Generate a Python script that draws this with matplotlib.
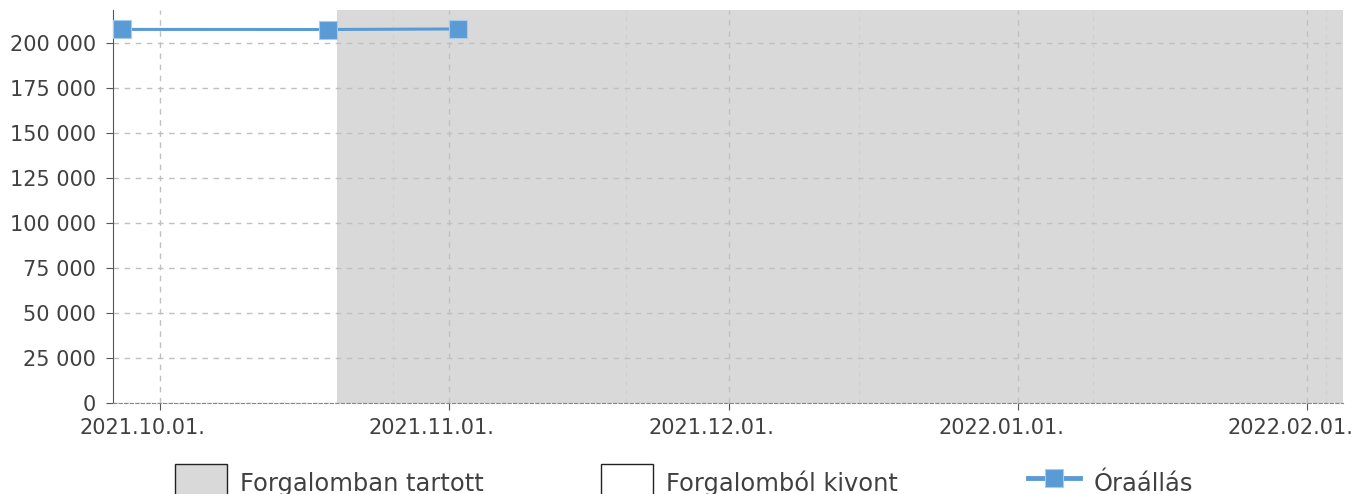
import matplotlib
matplotlib.use("Agg")
import matplotlib.pyplot as plt
import matplotlib.dates as mdates
import matplotlib.ticker as mticker
import matplotlib.transforms as mtransforms
from matplotlib.patches import Patch
from matplotlib.lines import Line2D
import pandas as pd

# ---- data ----
reading_dates = ["2021-09-27", "2021-10-19", "2021-11-02"]
reading_values = [207700, 207650, 207950]
in_service_start = "2021-10-20"
in_service_end = "2022-02-06"
x_tick_dates = ["2021-10-01", "2021-11-01", "2021-12-01", "2022-01-01", "2022-02-01"]
x_minor_dates = ["2021-10-26", "2021-11-20", "2021-12-15", "2022-01-09", "2022-02-03"]
y_ticks = [0, 25000, 50000, 75000, 100000, 125000, 150000, 175000, 200000]
legend_labels = ["Forgalomban tartott", "Forgalomból kivont", "Óraállás"]
x_range = ["2021-09-26", "2022-02-04 20:00"]
y_max = 218500

LINE_C = "#5B9BD5"
SHADE_C = "#D9D9D9"
TEXT_C = "#404040"

plt.rcParams["font.family"] = ["DejaVu Sans"]

fig = plt.figure(figsize=(13.53, 4.94), dpi=100)
ax = fig.add_axes([113 / 1353, 1 - 402.7 / 494, (1343 - 113) / 1353, (402.7 - 10) / 494])

d = pd.to_datetime(reading_dates)
ax.axvspan(pd.Timestamp(in_service_start), pd.Timestamp(in_service_end), color=SHADE_C, lw=0, zorder=0.5)
ax.plot(d, reading_values, color=LINE_C, lw=2.2, marker="s", markersize=13,
        markerfacecolor=LINE_C, markeredgecolor="#a8cbeb", markeredgewidth=0.8, zorder=3, clip_on=False)

ax.set_xlim(pd.Timestamp(x_range[0]), pd.Timestamp(x_range[1]))
ax.set_ylim(0, y_max)

ax.set_xticks(pd.to_datetime(x_tick_dates))
ax.xaxis.set_major_formatter(mdates.DateFormatter("%Y.%m.%d."))
ax.set_xticks(pd.to_datetime(x_minor_dates), minor=True)
ax.set_yticks(y_ticks)
ax.yaxis.set_major_formatter(mticker.FuncFormatter(lambda v, p: f"{int(v):,}".replace(",", " ")))

ax.grid(True, which="major", axis="both", color="#c0c0c0", linestyle=(0, (4, 4)), lw=1)
ax.grid(True, which="minor", axis="x", color="#d0d0d0", linestyle=(0, (4, 4)), lw=0.8)

for s in ["top", "right"]:
    ax.spines[s].set_visible(False)
ax.spines["left"].set_color("#555555")
ax.spines["bottom"].set_color("#888888")
ax.spines["bottom"].set_linestyle((0, (3, 2)))
ax.tick_params(axis="both", which="major", labelsize=15, colors="#555555", labelcolor=TEXT_C, length=5)
ax.tick_params(axis="x", which="minor", length=0)
ax.tick_params(axis="x", pad=6)
ax.tick_params(axis="y", pad=7)

shift = mtransforms.ScaledTranslation(-17 / 100, 0, fig.dpi_scale_trans)
for lbl in ax.get_xticklabels():
    lbl.set_transform(lbl.get_transform() + shift)

handles = [
    Patch(facecolor=SHADE_C, edgecolor="#222222", lw=1),
    Patch(facecolor="white", edgecolor="#222222", lw=1),
    Line2D([], [], color=LINE_C, lw=3.5, marker="s", markersize=13, markeredgecolor="#a8cbeb", markeredgewidth=0.8),
]
xs = [175, 601, 1028]
for h, lab, x in zip(handles, legend_labels, xs):
    fig.legend(handles=[h], labels=[lab], loc="center left", bbox_to_anchor=(x / 1353, 1 - 483 / 494),
               frameon=False, borderpad=0, borderaxespad=0, handlelength=2.15, handleheight=2.0,
               handletextpad=0.55, fontsize=17.4, labelcolor=TEXT_C)

fig.savefig("out.png", dpi=100)
